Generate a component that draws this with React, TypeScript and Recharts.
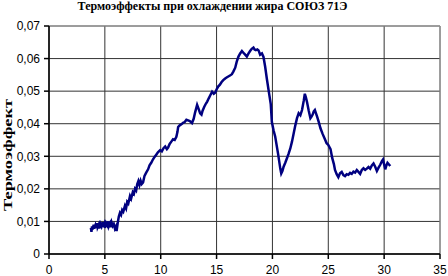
import React from "react";
import { LineChart, Line, XAxis, YAxis, CartesianGrid, ReferenceLine } from "recharts";

const xValues: number[] = [
  3.75, 3.8, 3.85, 3.9, 4.0, 4.05, 4.15, 4.2, 4.3, 4.35, 4.45, 4.5, 4.6, 4.7, 4.8, 4.85, 4.95, 5.0, 5.1, 5.2,
  5.3, 5.35, 5.45, 5.5, 5.6, 5.7, 5.8, 5.9, 6.0, 6.05, 6.15, 6.25, 6.35, 6.45, 6.55, 6.65, 6.8, 6.9, 7.0, 7.1,
  7.25, 7.35, 7.5, 7.6, 7.7, 7.8, 7.9, 8.0, 8.1, 8.2, 8.3, 8.42, 8.55, 8.7, 8.87, 9.0, 9.15, 9.3, 9.45, 9.6,
  9.75, 9.95, 10.1, 10.25, 10.4, 10.55, 10.66, 10.8, 10.95, 11.1, 11.25, 11.4, 11.5, 11.56, 11.7, 11.85, 12.0, 12.15, 12.3, 12.45,
  12.6, 12.8, 12.95, 13.08, 13.2, 13.26, 13.4, 13.53, 13.65, 13.75, 13.9, 14.05, 14.16, 14.3, 14.45, 14.6, 14.75, 14.87, 15.0, 15.14,
  15.3, 15.45, 15.6, 15.77, 15.9, 16.05, 16.2, 16.37, 16.5, 16.67, 16.8, 16.96, 17.1, 17.27, 17.4, 17.56, 17.71, 17.85, 18.0, 18.15,
  18.3, 18.4, 18.52, 18.65, 18.76, 18.9, 19.06, 19.2, 19.35, 19.5, 19.7, 19.85, 19.95, 20.1, 20.25, 20.5, 20.7, 20.79, 20.9, 21.0,
  21.15, 21.3, 21.45, 21.6, 21.75, 21.9, 22.05, 22.2, 22.35, 22.5, 22.65, 22.8, 22.9, 23.0, 23.1, 23.25, 23.4, 23.5, 23.6, 23.7,
  23.8, 23.9, 24.0, 24.15, 24.3, 24.5, 24.7, 24.85, 25.0, 25.2, 25.35, 25.5, 25.6, 25.75, 25.9, 26.05, 26.2, 26.35, 26.5, 26.65,
  26.8, 26.95, 27.1, 27.25, 27.4, 27.55, 27.7, 27.85, 28.0, 28.15, 28.3, 28.45, 28.6, 28.75, 28.9, 29.05, 29.2, 29.35, 29.5, 29.65,
  29.8, 29.9, 30.0, 30.1, 30.2, 30.3, 30.45, 30.55,
];

const yValues: number[] = [
  0.008, 0.0068, 0.0085, 0.0075, 0.009, 0.0078, 0.0088, 0.008, 0.0095, 0.0082, 0.009, 0.0078, 0.0093, 0.0085, 0.0098, 0.0083, 0.0092, 0.008, 0.0095, 0.0088,
  0.01, 0.0085, 0.0093, 0.0082, 0.0097, 0.0086, 0.0092, 0.0078, 0.0085, 0.007, 0.0095, 0.0115, 0.0126, 0.012, 0.0135, 0.013, 0.0148, 0.014, 0.016, 0.0155,
  0.0178, 0.017, 0.019, 0.0185, 0.02, 0.0195, 0.0215, 0.0224, 0.0212, 0.0225, 0.0215, 0.022, 0.024, 0.025, 0.026, 0.0272, 0.028, 0.029, 0.0298, 0.0305,
  0.0312, 0.0319, 0.0315, 0.0325, 0.033, 0.0322, 0.0327, 0.0338, 0.0345, 0.0352, 0.035, 0.036, 0.0375, 0.039, 0.0395, 0.0398, 0.0403, 0.0405, 0.0412, 0.041,
  0.0408, 0.0402, 0.0415, 0.0435, 0.045, 0.0458, 0.0445, 0.0432, 0.0428, 0.044, 0.0452, 0.0462, 0.0468, 0.0478, 0.0488, 0.0498, 0.0492, 0.0495, 0.0505, 0.0514,
  0.052, 0.0528, 0.0534, 0.0539, 0.0542, 0.0545, 0.0548, 0.0552, 0.056, 0.0572, 0.059, 0.0606, 0.0615, 0.0623, 0.0618, 0.0612, 0.0606, 0.0615, 0.0623, 0.063,
  0.0634, 0.0628, 0.0626, 0.0628, 0.0625, 0.0612, 0.0616, 0.0605, 0.0575, 0.0538, 0.0493, 0.046, 0.0405, 0.038, 0.036, 0.0309, 0.0263, 0.0247, 0.0255, 0.0268,
  0.028, 0.0294, 0.0308, 0.0324, 0.0345, 0.037, 0.0395, 0.0417, 0.0432, 0.0426, 0.0442, 0.047, 0.0492, 0.048, 0.0466, 0.044, 0.0417, 0.0422, 0.0428, 0.0438,
  0.0442, 0.0432, 0.0422, 0.0405, 0.0386, 0.0368, 0.0352, 0.034, 0.0335, 0.0322, 0.0295, 0.0276, 0.0258, 0.0245, 0.0236, 0.0248, 0.0252, 0.0242, 0.0239, 0.0245,
  0.0243, 0.0249, 0.0246, 0.0253, 0.025, 0.0258, 0.0252, 0.0246, 0.0258, 0.0263, 0.0258, 0.0262, 0.0267, 0.0262, 0.0272, 0.0278, 0.0268, 0.0255, 0.0265, 0.0274,
  0.0285, 0.029, 0.0275, 0.026, 0.0272, 0.028, 0.0274, 0.027,
];

const xTicks: number[] = [0, 5, 10, 15, 20, 25, 30, 35];
const yTicks: number[] = [0, 0.01, 0.02, 0.03, 0.04, 0.05, 0.06, 0.07];

const title = "Термоэффекты при охлаждении жира СОЮЗ 71Э";
const yTitle = "Термоэффект";

const data = xValues.map((x, i) => ({ x, y: yValues[i] }));

const fmtY = (v: number) => (v === 0 ? "0" : v.toFixed(2).replace(".", ","));

const tickStyle = { fontFamily: "'Liberation Sans', Arial, sans-serif", fontSize: 12, fill: "#000" };

export default function App() {
  return (
    <div style={{ position: "absolute", left: 0, top: 0, width: 448, height: 276, background: "#fff" }}>
      <div
        style={{
          position: "absolute",
          left: 0,
          top: 0,
          width: 425,
          textAlign: "center",
          fontFamily: "'Liberation Serif', 'Times New Roman', serif",
          fontWeight: "bold",
          fontSize: 12,
          lineHeight: "13px",
          color: "#000",
        }}
      >
        {title}
      </div>
      <LineChart width={448} height={276} data={data} margin={{ top: 26, right: 8, bottom: 0, left: 0 }}>
        <CartesianGrid stroke="#333" strokeWidth={1} />
        <ReferenceLine x={35} stroke="#a0a0a0" strokeWidth={1} ifOverflow="visible" />
        <ReferenceLine y={0.07} stroke="#a0a0a0" strokeWidth={1} ifOverflow="visible" />
        <XAxis
          dataKey="x"
          type="number"
          domain={[0, 35]}
          ticks={xTicks}
          interval={0}
          height={22}
          stroke="#000"
          strokeWidth={1.5}
          tickSize={5}
          tickMargin={6}
          tick={tickStyle}
          allowDataOverflow
        />
        <YAxis
          type="number"
          domain={[0, 0.07]}
          ticks={yTicks}
          interval={0}
          width={49}
          stroke="#000"
          strokeWidth={1.5}
          tickSize={5}
          tickMargin={4}
          tickFormatter={fmtY}
          tick={tickStyle}
          allowDataOverflow
          label={{
            content: () => (
              <text
                x={0}
                y={0}
                transform="translate(12,155) rotate(-90)"
                textAnchor="middle"
                textLength={112}
                lengthAdjust="spacingAndGlyphs"
                style={{ fontFamily: "'Liberation Serif', 'Times New Roman', serif", fontWeight: "bold", fontSize: 13 }}
                fill="#000"
              >
                {yTitle}
              </text>
            ),
          }}
        />
        <Line
          type="linear"
          dataKey="y"
          stroke="#000080"
          strokeWidth={2.5}
          dot={false}
          isAnimationActive={false}
        />
      </LineChart>
    </div>
  );
}
